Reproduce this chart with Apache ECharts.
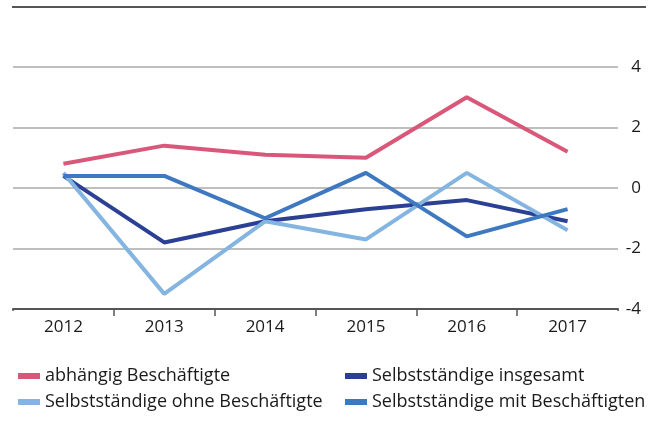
<!DOCTYPE html>
<html>
<head>
<meta charset="utf-8">
<script src="https://cdn.jsdelivr.net/npm/echarts@6/dist/echarts.min.js"></script>
<style>html,body{margin:0;padding:0;background:#fff}#c{width:650px;height:446px}</style>
</head>
<body>
<div id="c"></div>
<script>
var years = ['2012','2013','2014','2015','2016','2017'];
var abhaengig = [0.8, 1.4, 1.1, 1.0, 3.0, 1.2];
var insgesamt = [0.4, -1.8, -1.1, -0.7, -0.4, -1.1];
var ohne = [0.5, -3.5, -1.1, -1.7, 0.5, -1.4];
var mit = [0.4, 0.4, -1.0, 0.5, -1.6, -0.7];
var names = ['abhängig Beschäftigte','Selbstständige insgesamt','Selbstständige ohne Beschäftigte','Selbstständige mit Beschäftigten'];
var colors = ['#d9587a','#2b3f94','#84b5e1','#3d78c0'];
var FONT = '"Open Sans", sans-serif';

var chart = echarts.init(document.getElementById('c'));
function ser(i, d){
  return {name:names[i], type:'line', data:d, symbol:'none', lineStyle:{width:4,color:colors[i]}, itemStyle:{color:colors[i]}, animation:false};
}
var legendText = {fontFamily:FONT, fontSize:18, color:'#1a1a1a'};
chart.setOption({
  animation:false,
  grid:{left:13, right:32, top:67, bottom:137},
  xAxis:{type:'category', data:years, boundaryGap:true,
    axisLine:{onZero:false, lineStyle:{color:'#555', width:2}},
    axisTick:{show:true, length:7, lineStyle:{color:'#555', width:1.5}},
    axisLabel:{fontFamily:FONT, fontSize:17, color:'#1a1a1a', margin:10}},
  yAxis:{type:'value', position:'right', min:-4, max:4, interval:2,
    axisLine:{show:false}, axisTick:{show:false},
    splitLine:{lineStyle:{color:'#aaa', width:1.5}},
    axisLabel:{fontFamily:FONT, fontSize:17, color:'#1a1a1a', align:'right', margin:23}},
  legend:[
    {left:13, top:362, orient:'vertical', itemGap:8, itemWidth:22, itemHeight:6, icon:'rect', textStyle:legendText, data:[names[0], names[2]], selectedMode:false},
    {left:340, top:362, orient:'vertical', itemGap:8, itemWidth:22, itemHeight:6, icon:'rect', textStyle:legendText, data:[names[1], names[3]], selectedMode:false}
  ],
  graphic:[
    {type:'line', shape:{x1:12, y1:7, x2:646, y2:7}, style:{stroke:'#555', lineWidth:2}},
    {type:'rect', z:100, shape:{x:9, y:311, width:8, height:9}, style:{fill:'#fff'}},
    {type:'rect', z:100, shape:{x:614, y:311, width:8, height:9}, style:{fill:'#fff'}}
  ],
  series:[ser(0,abhaengig), ser(1,insgesamt), ser(2,ohne), ser(3,mit)]
});
</script>
</body>
</html>
